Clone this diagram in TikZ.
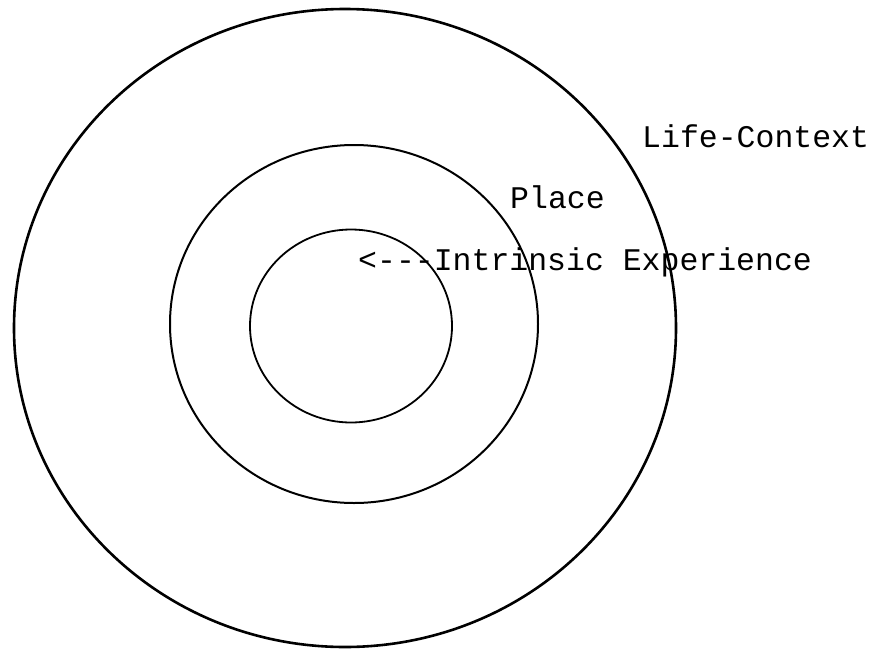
\documentclass[tikz,border=0pt]{standalone}
\usepackage{fontspec}
\setmonofont{Liberation Mono}
\usetikzlibrary{shapes.geometric, positioning}

\begin{document}
\begin{tikzpicture}[x=1pt, y=-1pt,
        ring/.style={ellipse, draw, inner sep=0pt},
        label/.style={anchor=base west, inner sep=0pt, font=\ttfamily\fontsize{31.5}{33}\selectfont}]

        \useasboundingbox (0,0) rectangle (876,654);

        % Rings
        \node [ring, line width=2.6pt, minimum width=662pt, minimum height=638pt] (lifectx) at (345,328) {};
        \node [ring, line width=2pt, minimum width=368pt, minimum height=358pt] (place) at (354,324) {};
        \node [ring, line width=1.8pt, minimum width=202pt, minimum height=193pt] (intrinsic) at (351,326) {};

        % Labels
        \node [label] (lifectxlabel) at (642,147) {Life-Context};
        \node [label] (placelabel) at (510,208) {Place};
        \node [label] (intrinsiclabel) at (358,270) {<---Intrinsic Experience};
    \end{tikzpicture}
\end{document}
